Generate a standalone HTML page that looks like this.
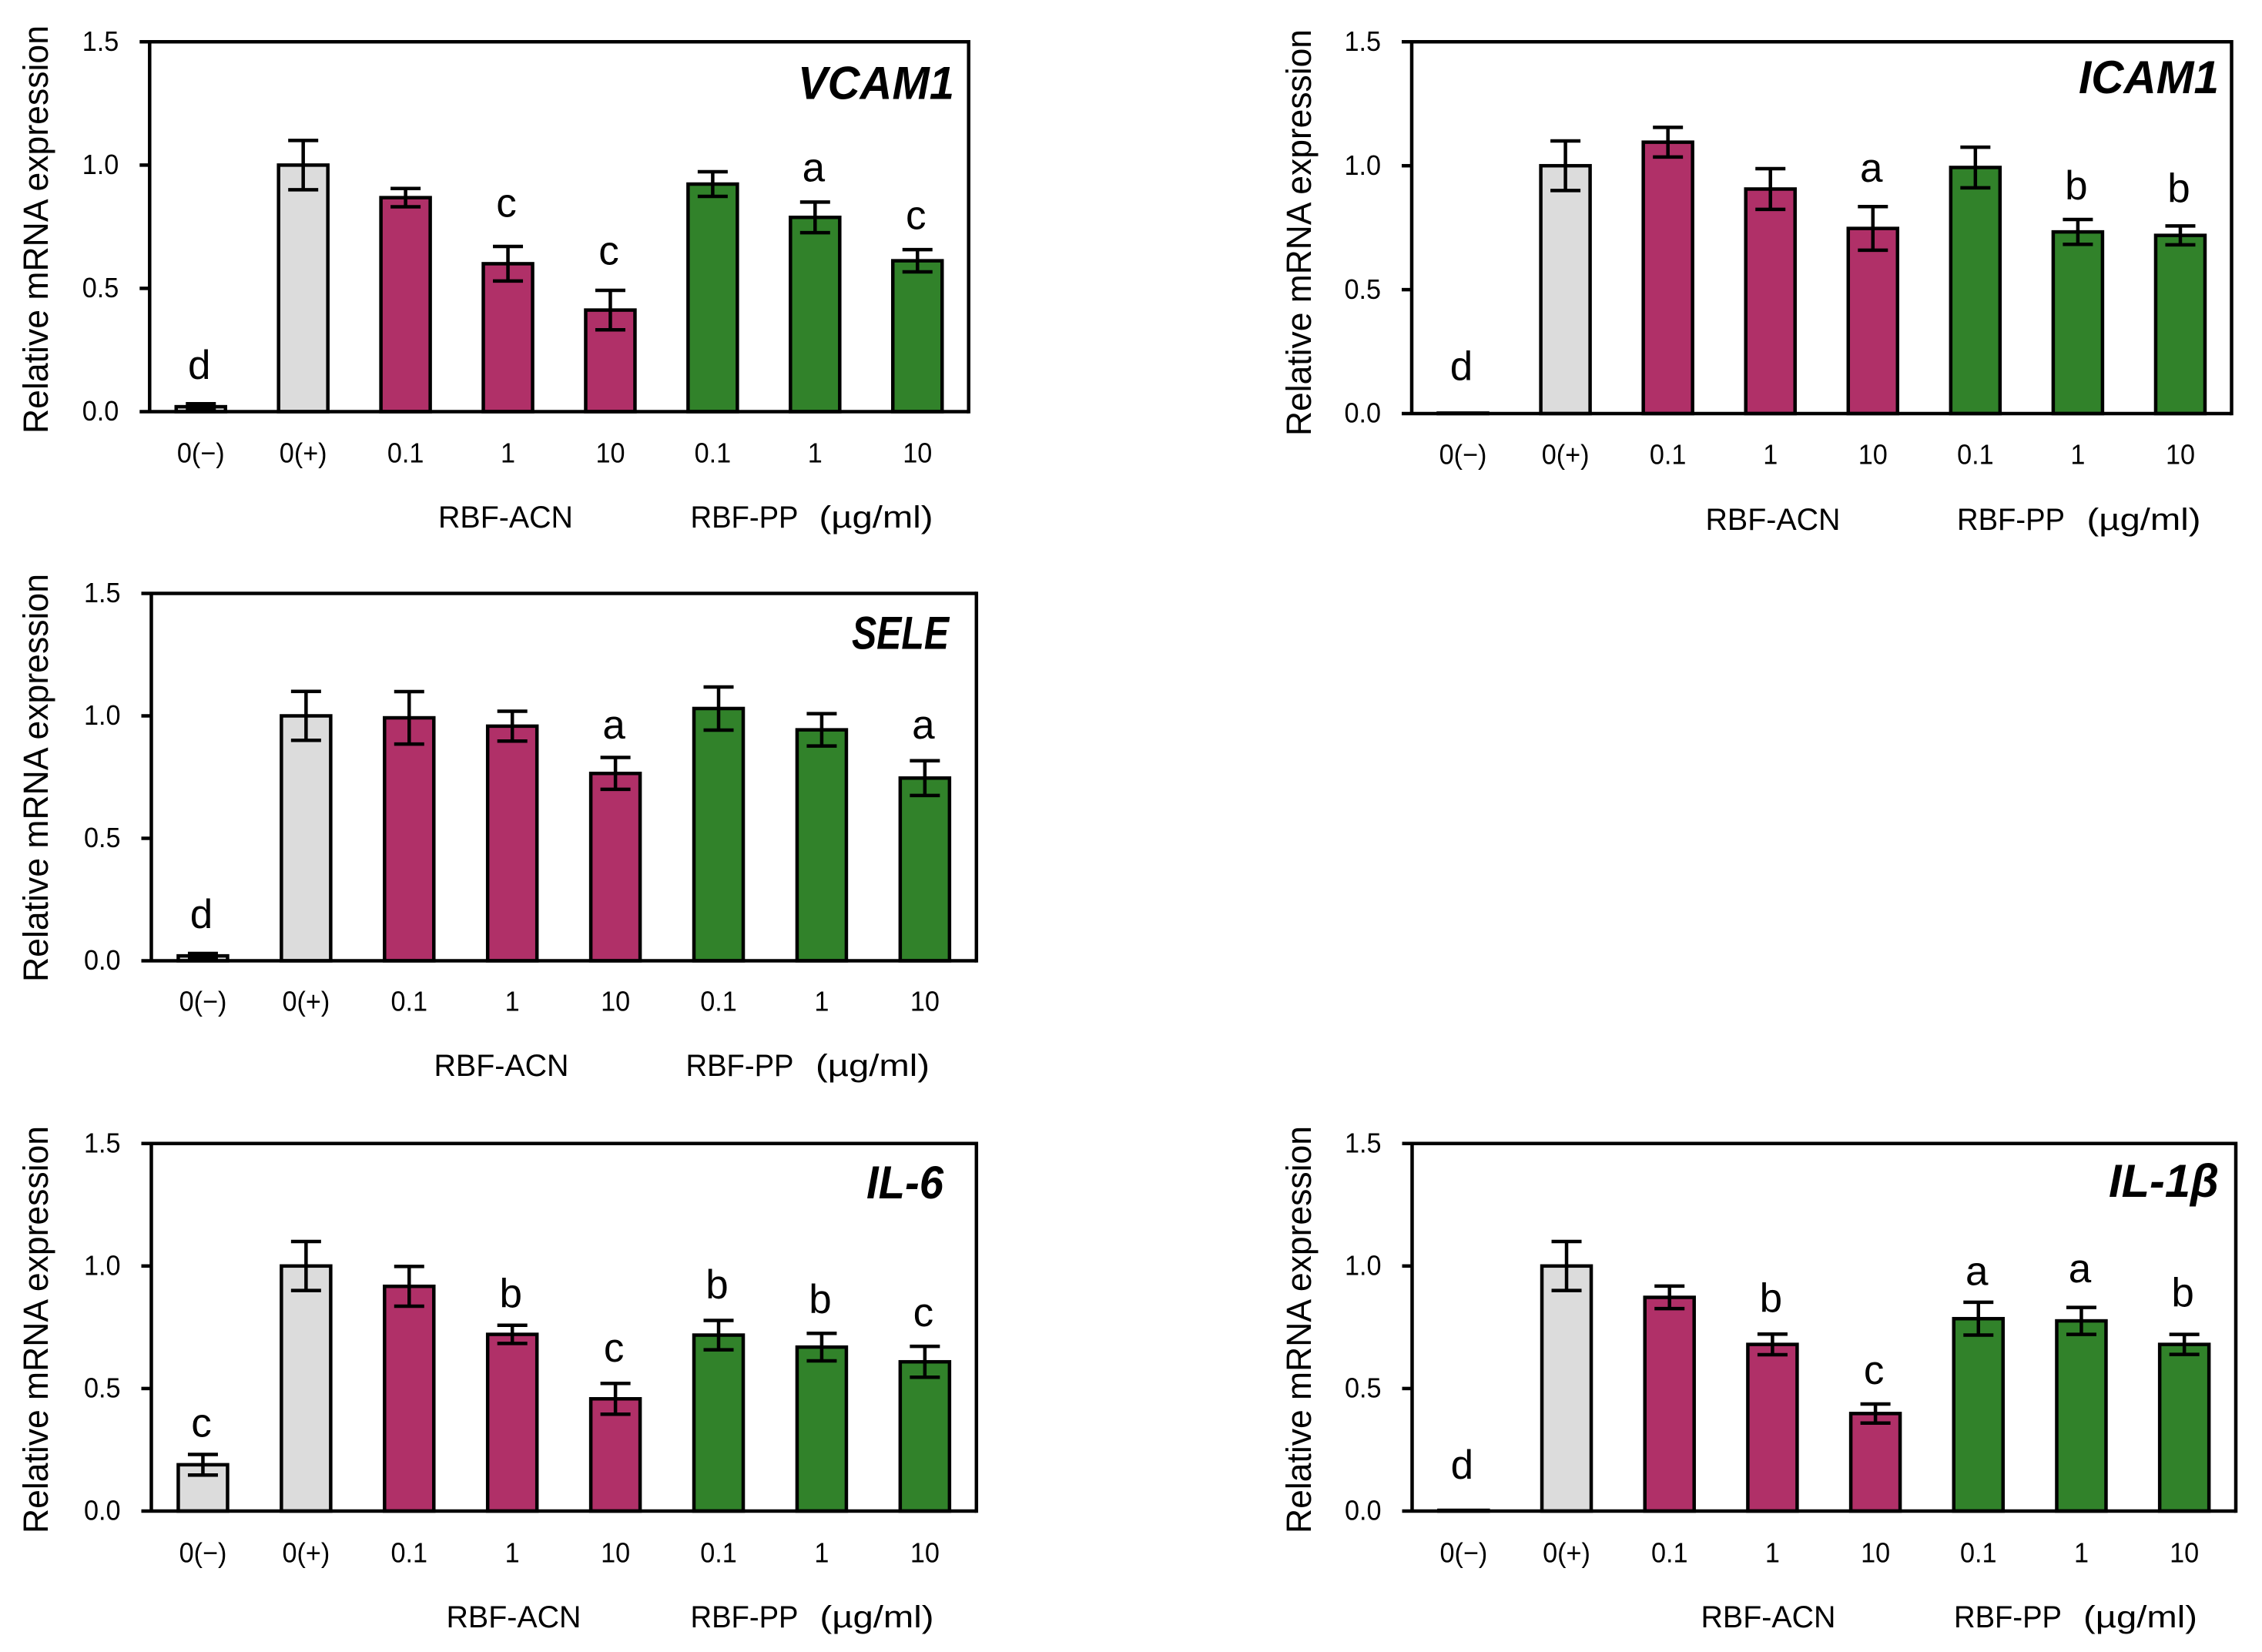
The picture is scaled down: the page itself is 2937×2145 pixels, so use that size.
<!DOCTYPE html>
<html lang="en">
<head>
<meta charset="utf-8">
<title>Relative mRNA expression panels</title>
<style>
html,body{margin:0;padding:0;background:#fff;}
svg{display:block;}
text{font-family:"Liberation Sans",sans-serif;fill:#000;}
</style>
</head>
<body>
<svg id="figure" xmlns="http://www.w3.org/2000/svg" width="2937" height="2145" viewBox="0 0 2937 2145"></svg>
<script>
const categories = ['0(\u2212)', '0(+)', '0.1', '1', '10', '0.1', '1', '10'];
const yTickValues = [0, 0.5, 1, 1.5];
const yTickLabels = ['0.0', '0.5', '1.0', '1.5'];
const yAxisMax = 1.5;
const yAxisTitle = 'Relative mRNA expression';
const groupLabels = ['RBF-ACN', 'RBF-PP', '(\u00b5g/ml)'];

const vcam1Values = [0.02, 1.0, 0.868, 0.60, 0.412, 0.923, 0.788, 0.612];
const vcam1Errors = [0.012, 0.10, 0.037, 0.07, 0.08, 0.05, 0.062, 0.045];
const vcam1Letters = ['d', '', '', 'c', 'c', '', 'a', 'c'];
const vcam1LetterLevels = [0.133, 0, 0, 0.791, 0.597, 0, 0.934, 0.74];

const icam1Values = [0.002, 1.0, 1.095, 0.906, 0.747, 0.993, 0.733, 0.719];
const icam1Errors = [0, 0.10, 0.06, 0.082, 0.088, 0.082, 0.05, 0.038];
const icam1Letters = ['d', '', '', '', 'a', '', 'b', 'b'];
const icam1LetterLevels = [0.135, 0, 0, 0, 0.936, 0, 0.864, 0.853];

const seleValues = [0.02, 1.0, 0.992, 0.958, 0.765, 1.03, 0.943, 0.746];
const seleErrors = [0.01, 0.10, 0.107, 0.061, 0.065, 0.088, 0.066, 0.071];
const seleLetters = ['d', '', '', '', 'a', '', '', 'a'];
const seleLetterLevels = [0.133, 0, 0, 0, 0.907, 0, 0, 0.907];

const il6Values = [0.189, 1.0, 0.917, 0.721, 0.458, 0.718, 0.669, 0.609];
const il6Errors = [0.042, 0.10, 0.081, 0.037, 0.063, 0.06, 0.056, 0.063];
const il6Letters = ['c', '', '', 'b', 'c', 'b', 'b', 'c'];
const il6LetterLevels = [0.304, 0, 0, 0.831, 0.609, 0.867, 0.808, 0.755];

const il1bValues = [0.003, 1.0, 0.872, 0.68, 0.398, 0.785, 0.776, 0.68];
const il1bErrors = [0, 0.10, 0.046, 0.042, 0.039, 0.067, 0.055, 0.041];
const il1bLetters = ['d', '', '', 'b', 'c', 'a', 'a', 'b'];
const il1bLetterLevels = [0.132, 0, 0, 0.812, 0.519, 0.923, 0.934, 0.834];

const panels = [
  {id:'vcam1', title:'VCAM1', values:vcam1Values, errors:vcam1Errors, letters:vcam1Letters, levels:vcam1LetterLevels,
   box:[194.3,1257.7,54.3,534.5], titleAt:[1036,128.4,203], tickY:600.5, groupY:685, groupX:[569,896.5,1063.5], yTitle:[62,563,530]},
  {id:'icam1', title:'ICAM1', values:icam1Values, errors:icam1Errors, letters:icam1Letters, levels:icam1LetterLevels,
   box:[1833,2897.5,54.3,537], titleAt:[2699,121,182], tickY:602.5, groupY:688, groupX:[2214.5,2541,2709.5], yTitle:[1702,566,528]},
  {id:'sele', title:'SELE', values:seleValues, errors:seleErrors, letters:seleLetters, levels:seleLetterLevels,
   box:[196.5,1267.8,770.5,1247.5], titleAt:[1106,842.6,126], tickY:1312.5, groupY:1397, groupX:[563.5,890.5,1059], yTitle:[62,1275,530]},
  {id:'il6', title:'IL-6', values:il6Values, errors:il6Errors, letters:il6Letters, levels:il6LetterLevels,
   box:[196.5,1267.8,1484.7,1962], titleAt:[1125,1556,100], tickY:2028.5, groupY:2113, groupX:[579.5,896.5,1064.5], yTitle:[62,1991,529]},
  {id:'il1b', title:'IL-1\u03b2', values:il1bValues, errors:il1bErrors, letters:il1bLetters, levels:il1bLetterLevels,
   box:[1833.5,2903,1484.7,1962], titleAt:[2738,1554,143], tickY:2028.5, groupY:2113, groupX:[2208.5,2537,2705], yTitle:[1702,1991,529]}
];

const SVG_NS = 'http://www.w3.org/2000/svg';
const figure = document.getElementById('figure');
const STROKE = 4.5;
const BAR_WIDTH = 64;
const CAP_WIDTH = 39;
const GROUP_LENGTHS = [175, 140, 148];
const TICK_CONDENSE = 0.95;

function barColor(i) {
  if (i < 2) return '#dcdcdc';
  return i < 5 ? '#b03068' : '#31822a';
}

function make(parent, tag, attrs) {
  const el = document.createElementNS(SVG_NS, tag);
  Object.keys(attrs).forEach(function (k) { el.setAttribute(k, attrs[k]); });
  parent.appendChild(el);
  return el;
}

function condense(el, k) {
  el.setAttribute('textLength', el.getComputedTextLength() * k);
  el.setAttribute('lengthAdjust', 'spacingAndGlyphs');
}

function drawLine(parent, x1, y1, x2, y2) {
  return make(parent, 'line', {x1:x1, y1:y1, x2:x2, y2:y2, stroke:'#000', 'stroke-width':STROKE});
}

function drawPanel(p) {
  const left = p.box[0], right = p.box[1], top = p.box[2], bottom = p.box[3];
  const xScale = function (i) { return left + (i + 0.5) * (right - left) / categories.length; };
  const yScale = function (v) { return bottom - v / yAxisMax * (bottom - top); };

  const g = make(figure, 'g', {});
  
  

  p.values.forEach(function (v, i) {
    const bar = make(g, 'rect', {x:xScale(i) - BAR_WIDTH / 2, y:yScale(v), width:BAR_WIDTH, height:Math.max(0, bottom - yScale(v)),
      fill:barColor(i), stroke:'#000', 'stroke-width':STROKE});
    
    
  });

  p.errors.forEach(function (e, i) {
    if (!e) return;
    const cx = xScale(i), hi = yScale(p.values[i] + e), lo = yScale(p.values[i] - e);
    const eg = make(g, 'g', {});
    
    
    drawLine(eg, cx, hi, cx, lo);
    drawLine(eg, cx - CAP_WIDTH / 2, hi, cx + CAP_WIDTH / 2, hi);
    drawLine(eg, cx - CAP_WIDTH / 2, lo, cx + CAP_WIDTH / 2, lo);
  });

  const frame = make(g, 'g', {});
  
  
  drawLine(frame, left, top, left, bottom);
  drawLine(frame, right, top - STROKE / 2, right, bottom + STROKE / 2);
  yTickValues.forEach(function (t) {
    drawLine(frame, left - 13, yScale(t), t === 0 || t === yAxisMax ? right : left, yScale(t));
  });

  yTickLabels.forEach(function (label, i) {
    const tick = make(g, 'text', {x:left - 40, y:yScale(yTickValues[i]) + 11.7, 'text-anchor':'end', 'font-size':36});
    tick.textContent = label;
    
    
    condense(tick, TICK_CONDENSE);
  });

  categories.forEach(function (label, i) {
    const tick = make(g, 'text', {x:xScale(i), y:p.tickY, 'text-anchor':'middle', 'font-size':36});
    tick.textContent = label;
    
    
    condense(tick, TICK_CONDENSE);
  });

  p.letters.forEach(function (letter, i) {
    if (!letter) return;
    const mark = make(g, 'text', {x:xScale(i) - 2, y:yScale(p.levels[i]), 'text-anchor':'middle', 'font-size':53});
    mark.textContent = letter;
    
    
  });

  groupLabels.forEach(function (label, i) {
    const group = make(g, 'text', {x:p.groupX[i], y:p.groupY, 'font-size':40, textLength:GROUP_LENGTHS[i], lengthAdjust:'spacingAndGlyphs'});
    group.textContent = label;
    
    
  });

  const yTitle = make(g, 'text', {x:0, y:0, 'font-size':45, textLength:p.yTitle[2], lengthAdjust:'spacingAndGlyphs',
    transform:'translate(' + p.yTitle[0] + ' ' + p.yTitle[1] + ') rotate(-90)'});
  yTitle.textContent = yAxisTitle;
  
  

  const title = make(g, 'text', {x:p.titleAt[0], y:p.titleAt[1], 'font-size':60, 'font-weight':'bold', 'font-style':'italic',
    textLength:p.titleAt[2], lengthAdjust:'spacingAndGlyphs'});
  title.textContent = p.title;
  
  
}

panels.forEach(drawPanel);
</script>
</body>
</html>
